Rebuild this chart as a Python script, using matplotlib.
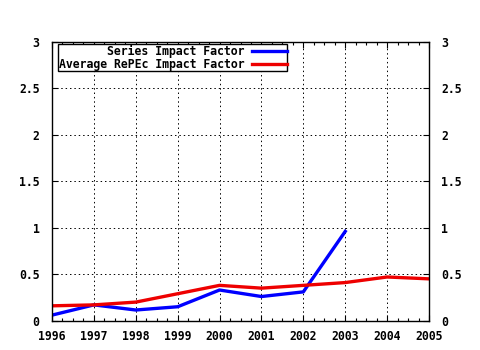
import numpy as np
import matplotlib

matplotlib.use("Agg")
import matplotlib.pyplot as plt
import matplotlib.ticker as mticker

# data
years = [1996, 1997, 1998, 1999, 2000, 2001, 2002, 2003, 2004, 2005]
series_if = [0.06, 0.17, 0.115, 0.15, 0.33, 0.26, 0.31, 0.96]
repec_if = [0.16, 0.17, 0.20, 0.29, 0.38, 0.35, 0.38, 0.41, 0.47, 0.45]
y_ticks = [0, 0.5, 1, 1.5, 2, 2.5, 3]
labels = ["Series Impact Factor", "Average RePEc Impact Factor"]

plt.rcParams["font.family"] = ["DejaVu Sans Mono"]
plt.rcParams["font.weight"] = "bold"
plt.rcParams["font.size"] = 8

fig = plt.figure(figsize=(4.8, 3.5), dpi=100)
ax = fig.add_axes([52 / 480, 1 - 320.7 / 350, 377 / 480, 279 / 350])

ax.plot(years[: len(series_if)], series_if, color="#0000ff", lw=2.4, label=labels[0])
ax.plot(years, repec_if, color="#ee0000", lw=2.4, label=labels[1])

ax.set_xlim(1996, 2005)
ax.set_ylim(0, 3)
ax.set_xticks(years)
ax.set_yticks(y_ticks)
ax.yaxis.set_major_formatter(mticker.FormatStrFormatter("%g"))
ax.xaxis.set_minor_locator(mticker.AutoMinorLocator(4))

ax.tick_params(which="both", direction="in", top=True, right=True,
               labelright=True, colors="black", labelsize=8.3)
ax.tick_params(which="major", length=4.5, width=0.8)
ax.tick_params(which="minor", length=2.5, width=0.8)
ax.tick_params(axis="y", pad=9)
ax.tick_params(axis="x", pad=7)
for lab in ax.get_xticklabels() + ax.get_yticklabels():
    lab.set_fontweight("bold")

ax.grid(True, which="major", color="black", lw=0.7, linestyle=(0, (1.5, 3)))
for sp in ax.spines.values():
    sp.set_linewidth(1.0)

leg = ax.legend(
    loc="upper left",
    bbox_to_anchor=(6 / 377, 1 - 2.5 / 279),
    markerfirst=False,
    frameon=True,
    fancybox=False,
    framealpha=1,
    edgecolor="black",
    borderpad=0.05,
    borderaxespad=0,
    handlelength=3.0,
    handletextpad=0.7,
    labelspacing=0.0,
    prop={"family": "DejaVu Sans Mono", "weight": "bold", "size": 8.3},
)
leg.get_frame().set_linewidth(1.0)

fig.savefig("out.png", dpi=100)
